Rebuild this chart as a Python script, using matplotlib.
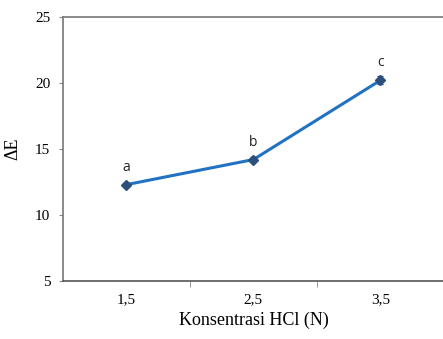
import matplotlib
matplotlib.use("Agg")
import matplotlib.pyplot as plt

categories = ["1,5", "2,5", "3,5"]
delta_e = [12.3, 14.2, 20.2]
errors = [0.15, 0.2, 0.3]
letters = ["a", "b", "c"]
yticks = [5, 10, 15, 20, 25]

fig = plt.figure(figsize=(4.43, 3.39), dpi=100)
ax = fig.add_axes([0.142, 0.171, 0.86, 0.779])
x = list(range(1, len(categories) + 1))
ax.plot(x, delta_e, color="#2272c3", lw=2.2, zorder=2)
ax.errorbar(x, delta_e, yerr=errors, fmt="D", color="#2c4f7c", ms=5,
            ecolor="#2c4f7c", elinewidth=1, capsize=2.5, zorder=3)
for xi, yi, t in zip(x, delta_e, letters):
    ax.text(xi, yi + 0.75, t, ha="center", va="bottom", fontsize=10,
            family="Open Sans", color="#222222")
ax.set_xlim(0.5, len(categories) + 0.5)
ax.set_ylim(5, 25)
ax.set_yticks(yticks)
ax.set_yticklabels([str(v) for v in yticks], family="Liberation Serif", fontsize=11)
ax.set_xticks(x)
ax.set_xticklabels(categories, family="Liberation Serif", fontsize=11)
ax.set_xticks([1.5, 2.5], minor=True)
ax.tick_params(axis="x", which="major", length=0, pad=9)
ax.tick_params(axis="x", which="minor", length=4, color="#888888", direction="out")
ax.tick_params(axis="y", length=3, color="#888888", direction="out", pad=6)
for s in ["left", "top"]:
    ax.spines[s].set_color("#777777")
    ax.spines[s].set_linewidth(1.2)
ax.spines["right"].set_visible(False)
ax.spines["bottom"].set_color("#555555")
ax.spines["bottom"].set_linewidth(1.2)
ax.set_xlabel("Konsentrasi HCl (N)", family="Liberation Serif", fontsize=13, labelpad=4)
ax.set_ylabel("ΔE", family="Liberation Serif", fontsize=13, labelpad=10)
fig.savefig("out.png", dpi=100)
